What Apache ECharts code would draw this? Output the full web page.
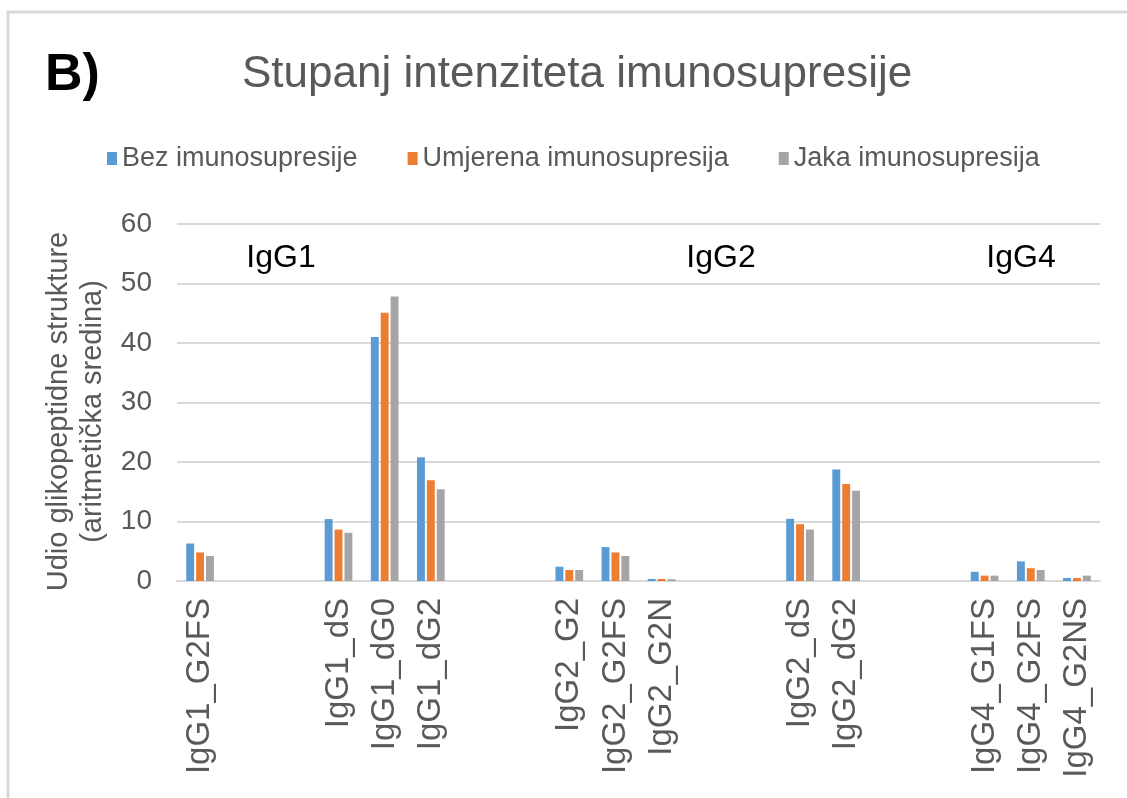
<!DOCTYPE html>
<html>
<head>
<meta charset="utf-8">
<script src="https://cdn.jsdelivr.net/npm/echarts@6/dist/echarts.min.js"></script>
<style>html,body{margin:0;padding:0;background:#fff}#c{width:1127px;height:798px}</style>
</head>
<body>
<div id="c"></div>
<script>
// Categories (empty strings are the blank spacer slots between groups)
const categories = ['IgG1_G2FS', '', '', 'IgG1_dS', 'IgG1_dG0', 'IgG1_dG2', '', '',
  'IgG2_G2', 'IgG2_G2FS', 'IgG2_G2N', '', '', 'IgG2_dS', 'IgG2_dG2', '', '',
  'IgG4_G1FS', 'IgG4_G2FS', 'IgG4_G2NS'];
const seriesNames = ['Bez imunosupresije', 'Umjerena imunosupresija', 'Jaka imunosupresija'];
const bezValues      = [6.3, null, null, 10.4, 41.0, 20.8, null, null, 2.4, 5.7, 0.35, null, null, 10.45, 18.75, null, null, 1.55, 3.3, 0.5];
const umjerenaValues = [4.8, null, null, 8.65, 45.1, 16.95, null, null, 1.85, 4.8, 0.35, null, null, 9.55, 16.3, null, null, 0.9, 2.15, 0.5];
const jakaValues     = [4.2, null, null, 8.1, 47.8, 15.4, null, null, 1.85, 4.2, 0.3, null, null, 8.65, 15.15, null, null, 0.9, 1.85, 0.9];
const yTicks = [0, 10, 20, 30, 40, 50, 60];
const groupLabels = ['IgG1', 'IgG2', 'IgG4'];

const colors = ['#5B9BD5', '#ED7D31', '#A5A5A5'];
const font = 'Liberation Sans, Arial, sans-serif';
const chart = echarts.init(document.getElementById('c'), null, {renderer: 'canvas'});

const groupPos = [[281, 258], [721, 258], [1021, 258]];

chart.setOption({
  animation: false,
  backgroundColor: '#ffffff',
  color: colors,
  title: {
    text: 'Stupanj intenziteta imunosupresije',
    left: 237, top: 48,
    textStyle: {fontFamily: font, fontSize: 44, fontWeight: 'normal', color: '#595959'}
  },
  legend: {
    left: 102, top: 140,
    itemWidth: 10, itemHeight: 13, itemGap: 50,
    icon: 'rect',
    textStyle: {fontFamily: font, fontSize: 27, color: '#595959', padding: [0, 0, 0, 0]},
    data: seriesNames
  },
  grid: {left: 177, right: 27, top: 224, bottom: 217, containLabel: false},
  xAxis: {
    type: 'category',
    data: categories,
    axisTick: {show: false},
    axisLine: {show: true, lineStyle: {color: '#D9D9D9', width: 2}},
    axisLabel: {interval: 0, rotate: 90, margin: 17, fontFamily: font, fontSize: 33, color: '#595959'}
  },
  yAxis: {
    type: 'value',
    min: yTicks[0], max: yTicks[yTicks.length - 1], interval: 10,
    name: 'Udio glikopeptidne strukture\n(aritmetička sredina)',
    nameLocation: 'middle', nameGap: 53,
    nameTextStyle: {fontFamily: font, fontSize: 29, color: '#595959', lineHeight: 34, padding: [0, 18, 0, 0]},
    axisLine: {show: false}, axisTick: {show: false},
    axisLabel: {margin: 25, fontFamily: font, fontSize: 28, color: '#595959'},
    splitLine: {lineStyle: {color: '#D9D9D9', width: 2}}
  },
  series: [
    {name: seriesNames[0], type: 'bar', data: bezValues, barGap: '25%', barCategoryGap: '40%'},
    {name: seriesNames[1], type: 'bar', data: umjerenaValues, barGap: '25%', barCategoryGap: '40%'},
    {name: seriesNames[2], type: 'bar', data: jakaValues, barGap: '25%', barCategoryGap: '40%'}
  ],
  graphic: [
    {type: 'rect', shape: {x: 8, y: 12, width: 1300, height: 1000}, style: {fill: 'none', stroke: '#D9D9D9', lineWidth: 3}, silent: true, z: -1},
    {type: 'text', left: 45, top: 50, style: {text: 'B)', fontFamily: font, fontSize: 52, fontWeight: 'bold', fill: '#000000'}}
  ].concat(groupLabels.map((t, i) => ({
    type: 'text', x: groupPos[i][0], y: groupPos[i][1],
    style: {text: t, fontFamily: font, fontSize: 32, fill: '#000000', align: 'center', verticalAlign: 'middle'}
  })))
});
</script>
</body>
</html>
